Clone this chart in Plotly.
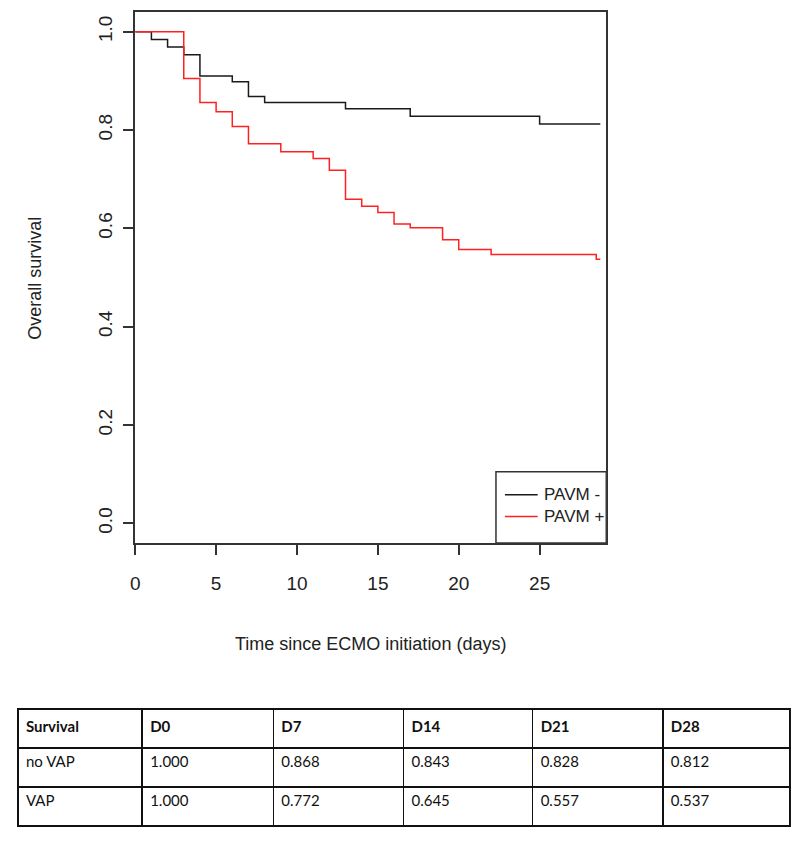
import plotly.graph_objects as go

W, H = 800, 843

# ---- data ----
days_neg = [0, 1, 2, 3, 4, 6, 7, 8, 13, 17, 25, 28.75]
surv_neg = [1.0, 0.984, 0.969, 0.953, 0.910, 0.898, 0.868, 0.856, 0.843, 0.828, 0.812, 0.812]
days_pos = [0, 3, 4, 5, 6, 7, 9, 11, 12, 13, 14, 15, 16, 17, 19, 20, 22, 28.5, 28.75]
surv_pos = [1.0, 0.905, 0.856, 0.837, 0.807, 0.772, 0.756, 0.742, 0.718, 0.659, 0.645, 0.632,
            0.609, 0.601, 0.577, 0.557, 0.547, 0.537, 0.537]
series_names = ["PAVM -", "PAVM +"]
x_ticks = [0, 5, 10, 15, 20, 25]
y_ticks = [0.0, 0.2, 0.4, 0.6, 0.8, 1.0]

table_header = ["Survival", "D0", "D7", "D14", "D21", "D28"]
table_rows = [
    ["no VAP", "1.000", "0.868", "0.843", "0.828", "0.812"],
    ["VAP", "1.000", "0.772", "0.645", "0.557", "0.537"],
]

# ---- layout geometry (pixels) ----
x_max = 28 * 1.04
px_left, px_right = 123, 597
px_top, px_bottom = 4, 535
ppd = (px_right - px_left) / x_max

def day_at(px):
    return (px - px_left) / ppd

fig = go.Figure()
fig.add_trace(go.Scatter(x=days_neg, y=surv_neg, mode="lines", line=dict(color="#1a1a1a", width=1.5, shape="hv"),
                         name=series_names[0], showlegend=False))
fig.add_trace(go.Scatter(x=days_pos, y=surv_pos, mode="lines", line=dict(color="#ff2020", width=1.5, shape="hv"),
                         name=series_names[1], showlegend=False))

axis_font = dict(family="Liberation Sans, Arial", size=19, color="#222")
fig.update_xaxes(domain=[px_left / W, px_right / W], range=[0, x_max], tickvals=x_ticks,
                 ticks="outside", ticklen=10, tickwidth=1.5, tickcolor="#333",
                 showline=True, linecolor="#333", linewidth=1.5, mirror=True,
                 showgrid=False, zeroline=False, tickfont=axis_font, ticklabelstandoff=12)
fig.update_yaxes(domain=[1 - px_bottom / H, 1 - px_top / H], range=[-0.04, 1.04], tickvals=y_ticks,
                 ticktext=[f"{v:.1f}" for v in y_ticks], tickangle=-90,
                 ticks="outside", ticklen=10, tickwidth=1.5, tickcolor="#333",
                 showline=True, linecolor="#333", linewidth=1.5, mirror=True,
                 showgrid=False, zeroline=False, tickfont=axis_font, ticklabelstandoff=4)

# legend box (bottom-right, inside plot)
leg_y1 = 0.105
fig.add_shape(type="rect", xref="x", yref="y", x0=day_at(486), x1=x_max, y0=-0.04, y1=leg_y1,
              line=dict(color="#333", width=1.5), fillcolor="white", layer="above")
leg_colors = ["#1a1a1a", "#ff2020"]
leg_ys = [0.058, 0.014]
for name, col, ly in zip(series_names, leg_colors, leg_ys):
    fig.add_shape(type="line", xref="x", yref="y", x0=day_at(495), x1=day_at(528), y0=ly, y1=ly,
                  line=dict(color=col, width=1.5), layer="above")
    fig.add_annotation(x=day_at(532), y=ly, xref="x", yref="y", text=name, showarrow=False,
                       xanchor="left", yanchor="middle",
                       font=dict(family="Liberation Sans, Arial", size=17, color="#222"))

# axis titles
fig.add_annotation(x=22 / W, y=1 - 270 / H, xref="paper", yref="paper", text="Overall survival",
                   textangle=-90, showarrow=False, xanchor="center", yanchor="middle",
                   font=dict(family="Liberation Sans, Arial", size=18, color="#222"))
fig.add_annotation(x=(px_left + px_right) / 2 / W, y=1 - 636 / H, xref="paper", yref="paper",
                   text="Time since ECMO initiation (days)", showarrow=False, xanchor="center", yanchor="middle",
                   font=dict(family="Liberation Sans, Arial", size=18, color="#222"))

# table
tab_left, tab_right, tab_top, row_h = 5, 782, 701, 39
col_w = [125, 132, 131, 130, 131, 128]
cols = [[r[i] for r in table_rows] for i in range(len(table_header))]
fig.add_trace(go.Table(
    domain=dict(x=[tab_left / W, tab_right / W], y=[1 - (tab_top + 3 * row_h + 2) / H, 1 - tab_top / H]),
    columnwidth=col_w,
    header=dict(values=[f"<b>{h}</b>" for h in table_header], height=row_h, align="left",
                line=dict(color="#111", width=1.5), fill=dict(color="white"),
                font=dict(family="Lato, Open Sans", size=15, color="#111")),
    cells=dict(values=cols, height=row_h, align="left",
               line=dict(color="#111", width=1.5), fill=dict(color="white"),
               font=dict(family="Lato, Open Sans", size=15, color="#111")),
))

fig.update_layout(width=W, height=H, margin=dict(l=0, r=0, t=0, b=0),
                  paper_bgcolor="white", plot_bgcolor="white", showlegend=False)
fig.write_html("out.html")
